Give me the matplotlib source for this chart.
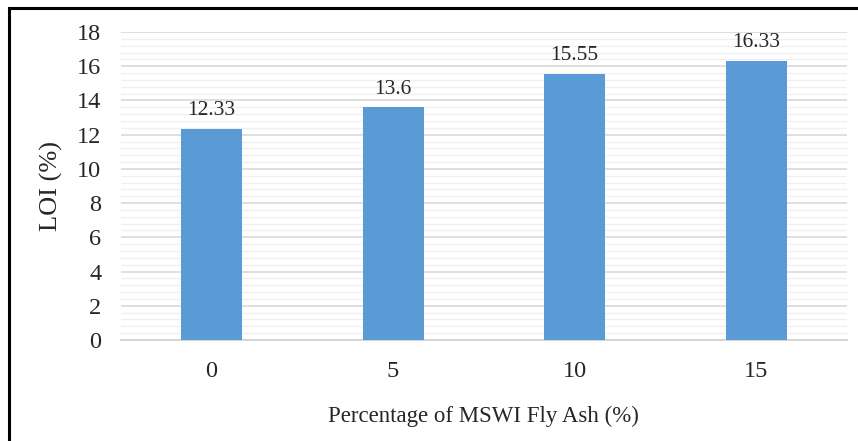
import matplotlib.pyplot as plt
from matplotlib.patches import Rectangle
import numpy as np

# data
categories = ['0', '5', '10', '15']
loi = [12.33, 13.6, 15.55, 16.33]
value_labels = ['12.33', '13.6', '15.55', '16.33']

plt.rcParams['font.family'] = ['Liberation Serif', 'DejaVu Serif']

fig = plt.figure(figsize=(8.58, 4.41), dpi=100)
ax = fig.add_axes([120.75/858, 1 - 340/441, (847 - 120.75)/858, (340 - 32)/441])

x = np.arange(len(categories))
bars = ax.bar(x, loi, width=0.336, color='#5b9bd5', zorder=3)
for xi, v, lab in zip(x, loi, value_labels):
    ax.text(xi, v + 0.5, lab, ha='center', va='bottom', fontsize=15.5, color='#262626')

ax.set_xlim(-0.5, 3.5)
ax.set_ylim(0, 18)
ax.set_yticks(np.arange(0, 19, 2))
ax.set_yticks(np.arange(0, 18.01, 0.4), minor=True)
ax.set_xticks(x)
ax.set_xticklabels(categories)
ax.tick_params(axis='both', which='both', length=0, labelsize=17.5, colors='#262626')
ax.tick_params(axis='y', pad=14)
ax.tick_params(axis='x', pad=15)
ax.grid(axis='y', which='major', color='#d9d9d9', linewidth=1.2, zorder=0)
ax.grid(axis='y', which='minor', color='#f0f0f0', linewidth=1.0, zorder=0)
for s in ['top', 'right', 'left']:
    ax.spines[s].set_visible(False)
ax.spines['bottom'].set_color('#d0d0d0')
ax.spines['bottom'].set_linewidth(1.2)

ax.set_xlabel('Percentage of MSWI Fly Ash (%)', fontsize=16.5, color='#262626', labelpad=17)
ax.set_ylabel('LOI (%)', fontsize=19, color='#262626', labelpad=10)

# outer frame (right and bottom edges are cut off in the reference)
fig.patches.append(Rectangle((9/858, -0.1), 1.2, 1 - 8/441 + 0.1, transform=fig.transFigure,
                             fill=False, edgecolor='black', linewidth=2.2))

fig.savefig('out.png', dpi=100)
